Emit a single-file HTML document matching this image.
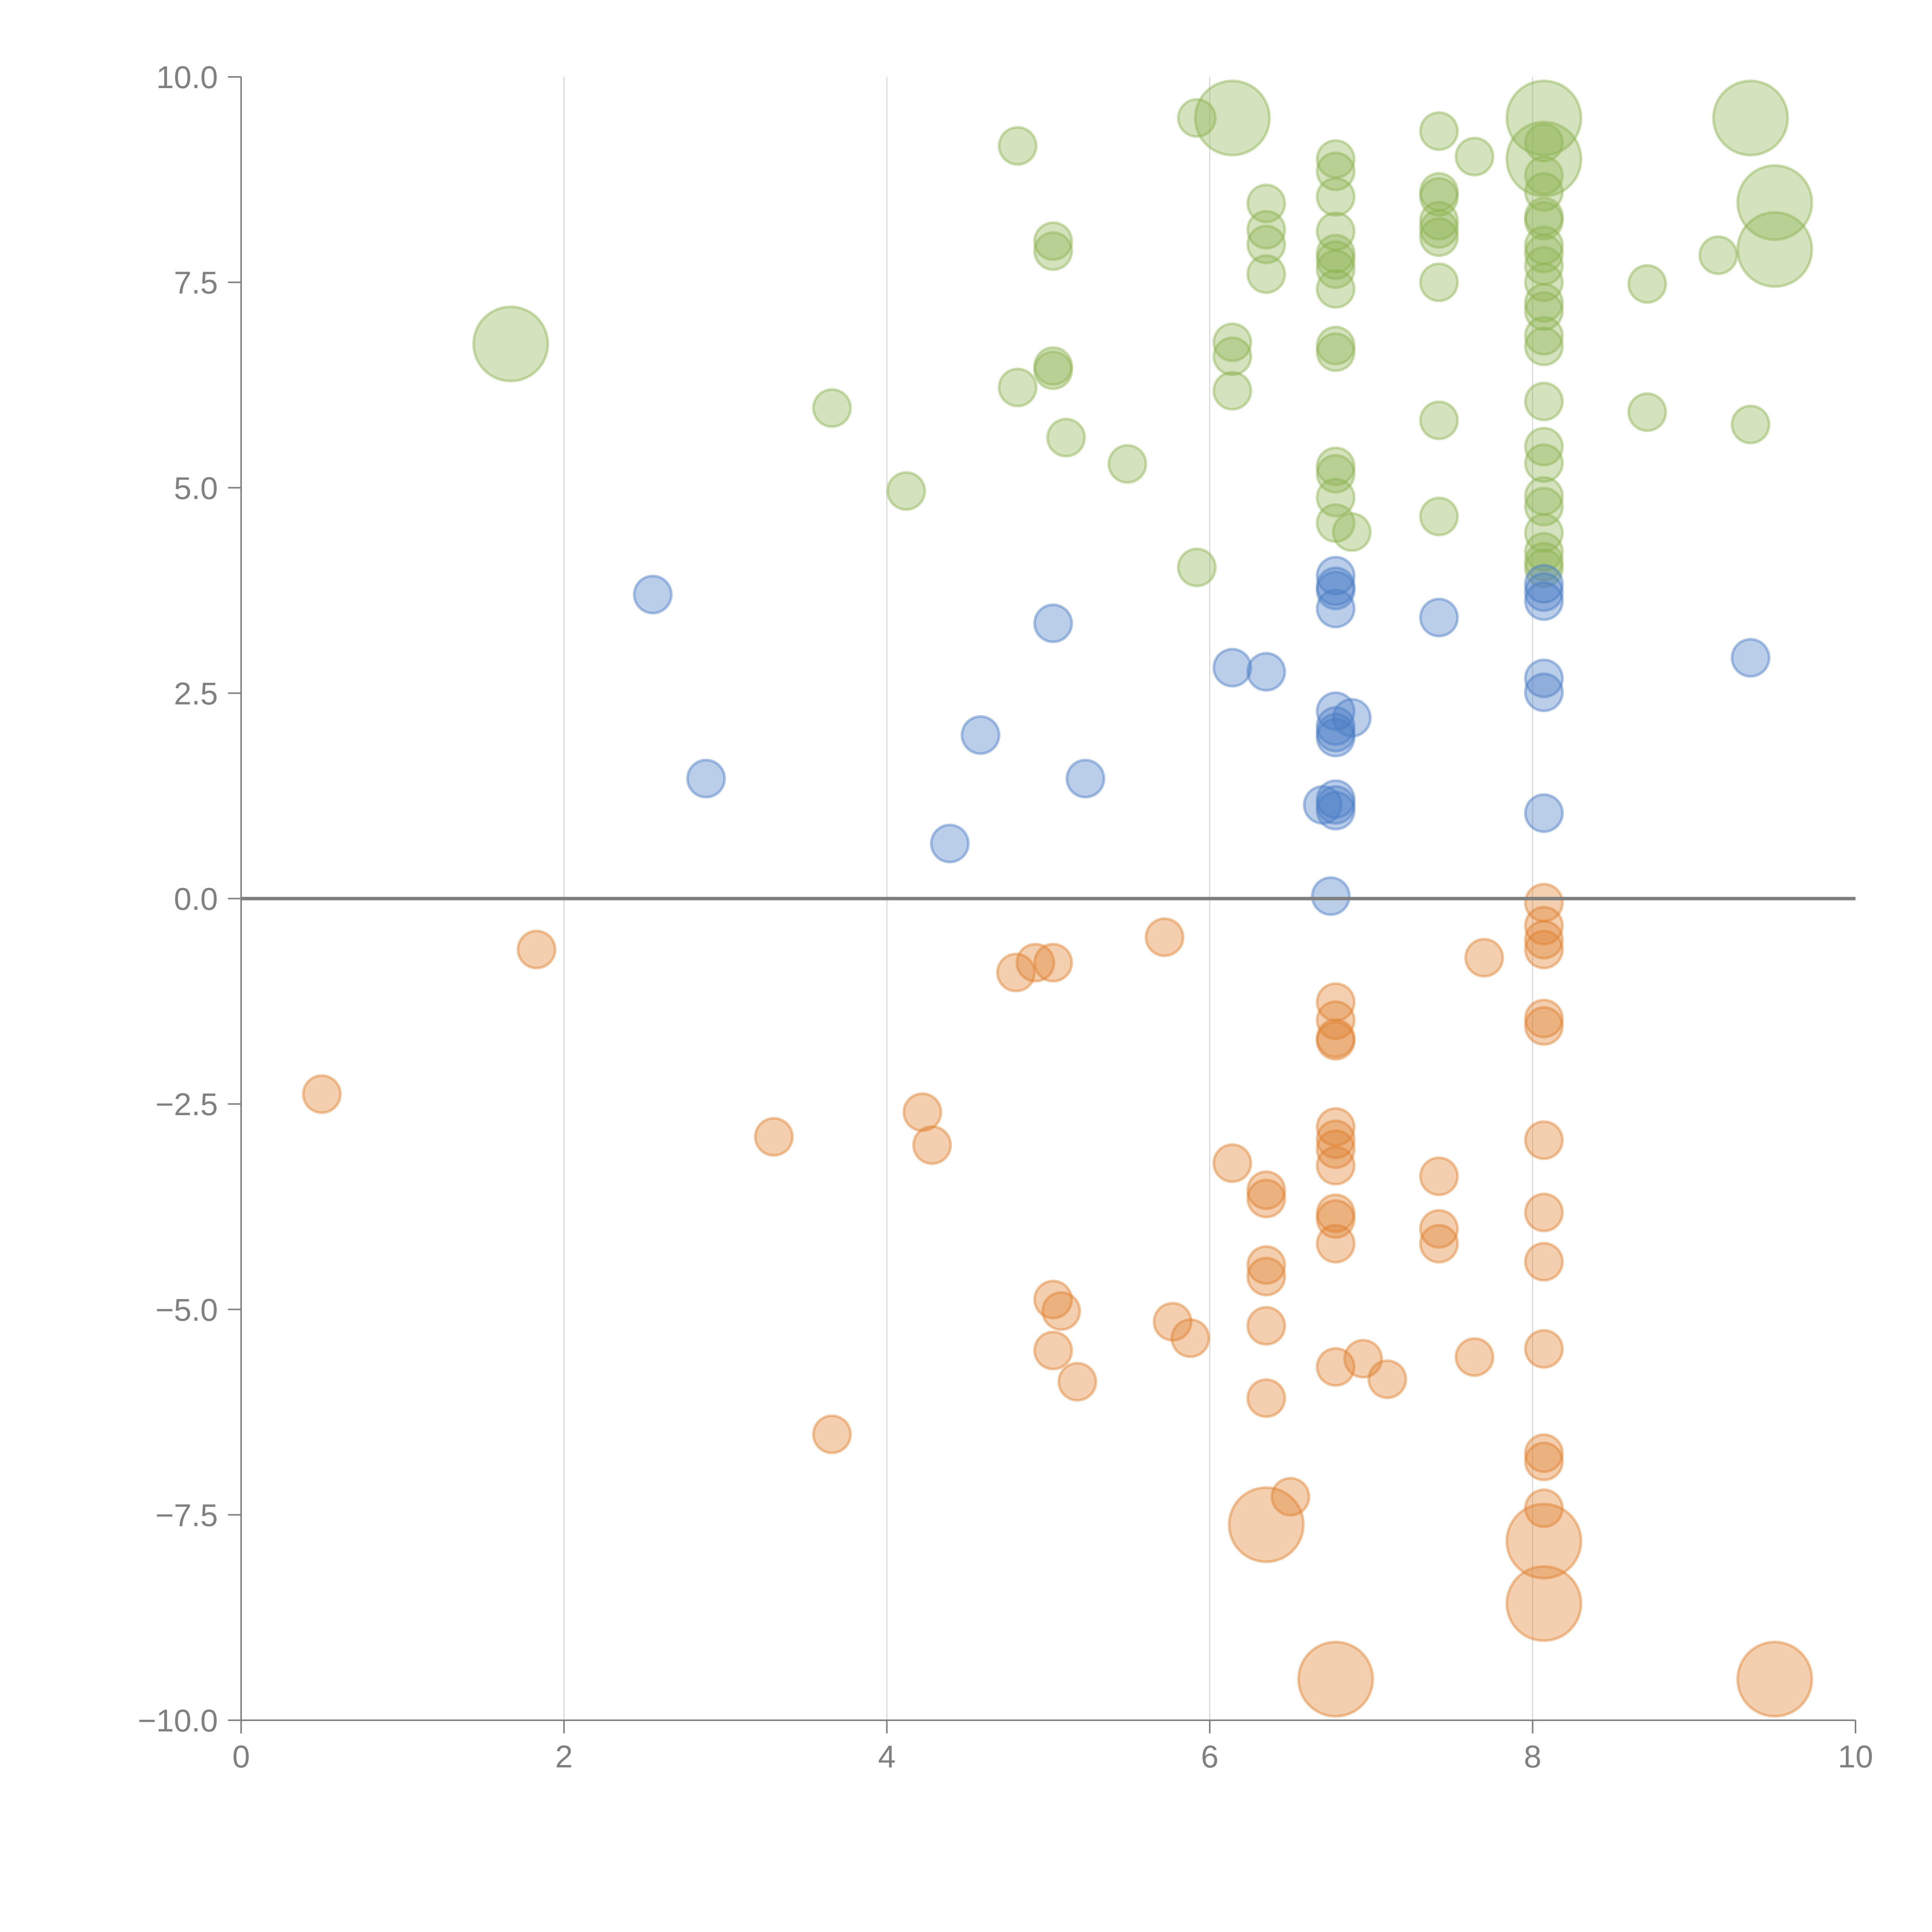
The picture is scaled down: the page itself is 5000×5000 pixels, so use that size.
<!DOCTYPE html>
<html><head><meta charset="utf-8"><style>
html,body{margin:0;padding:0;background:#fff;}
svg{display:block;}
text{font-family:"Liberation Sans",Arial,sans-serif;fill:#808080;}
</style></head><body>
<svg id="chart" width="5000" height="5000" xmlns="http://www.w3.org/2000/svg">
<g id="grid"></g>
<g id="marks"></g>
<g id="axes"></g>
</svg>
<script>
const xTicks = [0,2,4,6,8,10];
const yTicks = [10.0,7.5,5.0,2.5,0.0,-2.5,-5.0,-7.5,-10.0];
const yTickLabels = ["10.0","7.5","5.0","2.5","0.0","\u22122.5","\u22125.0","\u22127.5","\u221210.0"];
const greenX = [1.67,3.66,4.12,4.81,4.81,5.03,5.03,5.03,5.03,5.11,5.49,5.92,5.92,6.14,6.14,6.14,6.14,6.35,6.35,6.35,6.35,6.78,6.78,6.78,6.78,6.78,6.78,6.78,6.78,6.78,6.78,6.78,6.78,6.78,6.78,6.88,7.42,7.42,7.42,7.42,7.42,7.42,7.42,7.42,7.42,7.64,8.07,8.07,8.07,8.07,8.07,8.07,8.07,8.07,8.07,8.07,8.07,8.07,8.07,8.07,8.07,8.07,8.07,8.07,8.07,8.07,8.07,8.07,8.07,8.07,8.71,8.71,9.15,9.35,9.35,9.5,9.5];
const greenY = [6.75,5.97,4.96,9.16,6.22,8.0,7.88,6.48,6.43,5.61,5.29,4.03,9.5,9.5,6.77,6.6,6.18,8.46,8.14,7.96,7.6,9.0,8.85,8.54,8.12,7.85,7.77,7.66,7.42,6.73,6.65,5.26,5.17,4.88,4.57,4.46,9.34,8.6,8.54,8.25,8.15,8.05,7.5,5.82,4.65,9.03,9.5,9.0,9.2,8.8,8.6,8.3,8.25,7.95,7.85,7.7,7.5,7.25,7.15,6.85,6.72,6.05,5.5,5.3,4.9,4.77,4.45,4.22,4.1,4.02,7.48,5.92,7.83,9.5,5.77,8.47,7.9];
const greenSize = [2,1,1,1,1,1,1,1,1,1,1,1,1,2,1,1,1,1,1,1,1,1,1,1,1,1,1,1,1,1,1,1,1,1,1,1,1,1,1,1,1,1,1,1,1,1,2,2,1,1,1,1,1,1,1,1,1,1,1,1,1,1,1,1,1,1,1,1,1,1,1,1,1,2,1,2,2];
const blueX = [2.55,2.88,4.39,4.58,5.03,5.23,6.14,6.35,6.7,6.78,6.78,6.78,6.78,6.78,6.78,6.78,6.78,6.88,6.78,6.78,6.78,6.75,7.42,8.07,8.07,8.07,8.07,8.07,8.07,9.35];
const blueY = [3.7,1.46,0.67,1.99,3.35,1.46,2.81,2.76,1.14,3.93,3.8,3.75,3.53,2.28,2.1,2.02,1.96,2.2,1.21,1.14,1.07,0.03,3.42,3.83,3.73,3.62,2.68,2.51,1.04,2.93];
const orangeX = [0.5,1.83,3.3,3.66,4.22,4.28,4.8,4.92,5.03,5.03,5.08,5.03,5.18,5.72,5.77,5.88,6.14,6.35,6.35,6.35,6.35,6.35,6.35,6.35,6.5,6.78,6.78,6.78,6.78,6.78,6.78,6.78,6.78,6.78,6.78,6.78,6.78,6.95,7.1,6.78,7.42,7.42,7.42,7.64,7.7,8.07,8.07,8.07,8.07,8.07,8.07,8.07,8.07,8.07,8.07,8.07,8.07,8.07,8.07,8.07,9.5];
const orangeY = [-2.38,-0.62,-2.9,-6.52,-2.6,-3.0,-0.9,-0.78,-0.78,-4.88,-5.02,-5.5,-5.88,-0.47,-5.15,-5.35,-3.22,-3.55,-3.65,-4.46,-4.6,-5.2,-6.08,-7.62,-7.28,-1.26,-1.48,-1.7,-1.73,-2.78,-2.93,-3.05,-3.25,-3.83,-3.9,-4.2,-5.7,-5.6,-5.85,-9.5,-3.38,-4.02,-4.2,-5.58,-0.72,-0.05,-0.33,-0.5,-0.62,-1.46,-1.55,-2.94,-3.82,-4.42,-5.48,-6.75,-6.85,-7.42,-7.82,-8.58,-9.5];
const orangeSize = [1,1,1,1,1,1,1,1,1,1,1,1,1,1,1,1,1,1,1,1,1,1,1,2,1,1,1,1,1,1,1,1,1,1,1,1,1,1,1,2,1,1,1,1,1,1,1,1,1,1,1,1,1,1,1,1,1,1,2,2,2];

const NS='http://www.w3.org/2000/svg';
const X0=624, X1=4802, Y0=4452, Y1=199;
function sx(v){return X0+(v-0)/(10-0)*(X1-X0);}
function sy(v){return Y0-(v+10)/20*(Y0-Y1);}
function rad(s){return s===2?96:48;}
function mk(tag,attrs,parent){const e=document.createElementNS(NS,tag);for(const k in attrs)e.setAttribute(k,attrs[k]);parent.appendChild(e);return e;}
const grid=document.getElementById('grid'), marks=document.getElementById('marks'), axes=document.getElementById('axes');

xTicks.forEach(t=>{
  if(t>0&&t<10){
    const l=mk('line',{x1:sx(t),x2:sx(t),y1:Y1,y2:Y0,stroke:'#d9d9d9','stroke-width':3},grid);
    
    
  }
});

function series(xs,ys,ss,color,name){
  xs.forEach((x,i)=>{
    const c=mk('circle',{cx:sx(x),cy:sy(ys[i]),r:rad(ss?ss[i]:1),fill:color,'fill-opacity':0.38,stroke:color,'stroke-opacity':0.45,'stroke-width':7},marks);
    
    
  });
}
series(greenX,greenY,greenSize,'#8db451','bubble-green');
series(blueX,blueY,null,'#4a7cc4','bubble-blue');
series(orangeX,orangeY,orangeSize,'#e0812f','bubble-orange');

const zl=mk('line',{x1:X0,x2:X1,y1:sy(0),y2:sy(0),stroke:'#808080','stroke-width':9},axes);


const ya=mk('line',{x1:X0,x2:X0,y1:Y1,y2:Y0,stroke:'#808080','stroke-width':4},axes);


const xa=mk('line',{x1:X0,x2:X1,y1:Y0,y2:Y0,stroke:'#808080','stroke-width':4},axes);



yTicks.forEach((t,i)=>{
  const l=mk('line',{x1:X0-34,x2:X0,y1:sy(t),y2:sy(t),stroke:'#808080','stroke-width':4},axes);
  
  
  const tx=mk('text',{x:X0-60,y:sy(t)+29,'text-anchor':'end','font-size':82},axes);
  tx.textContent=yTickLabels[i];
  
  
});
xTicks.forEach(t=>{
  const l=mk('line',{x1:sx(t),x2:sx(t),y1:Y0,y2:Y0+34,stroke:'#808080','stroke-width':4},axes);
  
  
  const tx=mk('text',{x:sx(t),y:Y0+122,'text-anchor':'middle','font-size':82},axes);
  tx.textContent=String(t);
  
  
});
</script>
</body></html>
